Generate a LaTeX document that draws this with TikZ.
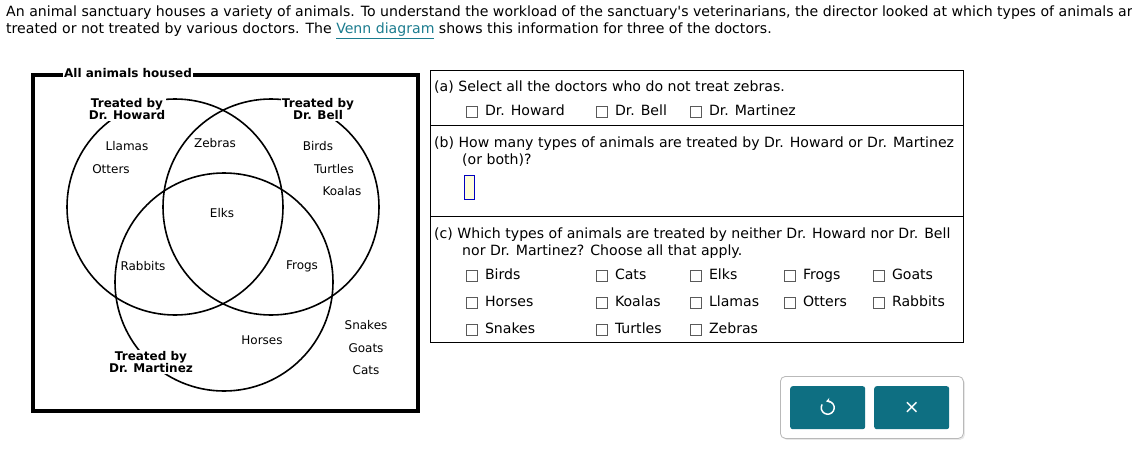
\documentclass[tikz,border=0pt]{standalone}
\usepackage{fontspec}
\setmainfont{DejaVu Sans}
\usetikzlibrary{shadows,arrows.meta,positioning}
\definecolor{tealbtn}{HTML}{0E6F82}
\definecolor{linkc}{HTML}{1B7C8F}
\definecolor{boxgray}{HTML}{5A5A5A}
\tikzset{
  maintext/.style={anchor=base west, inner sep=0, font=\fontsize{14.1}{17}\selectfont},
  qtext/.style={anchor=base west, inner sep=0, font=\fontsize{14.1}{17}\selectfont},
  venncirc/.style={circle, draw, line width=1.6, inner sep=0},
  animal/.style={inner sep=0, font=\fontsize{12}{14}\selectfont},
  setlabel/.style={fill=white, inner sep=1, align=center, font=\bfseries\fontsize{12}{12}\selectfont},
  cbox/.style={draw=boxgray, line width=0.6, minimum size=11, inner sep=0},
  cbtext/.style={anchor=west, inner sep=0, text height=10.5, text depth=3, font=\fontsize{14.1}{17}\selectfont},
  btn/.style={fill=tealbtn, rounded corners=2.5, minimum width=75, minimum height=43, anchor=north west, inner sep=0}
}
\begin{document}
\begin{tikzpicture}[x=1pt,y=-1pt]
\useasboundingbox (0,0) rectangle (1132,452);
\clip (0,0) rectangle (1132,452);
\fill[white] (0,0) rectangle (1132,452);

% intro text
\node[maintext] (line1) at (6,17) {An animal sanctuary houses a variety of animals. To understand the workload of the sanctuary\textquotesingle s veterinarians, the director looked at which types of animals are};
\node[maintext] (line2) at (6,34) {treated or not treated by various doctors. The \textcolor{linkc}{\underline{Venn diagram}} shows this information for three of the doctors.};

% Venn diagram
\node[venncirc, minimum size=216] (howard) at (175,207) {};
\node[venncirc, minimum size=216] (bell) at (271,207) {};
\node[venncirc, minimum size=218] (martinez) at (224,282) {};
\node[draw, line width=3.5, minimum width=385, minimum height=336, anchor=north west, inner sep=0] (universe) at (31,73) {};
\node[setlabel, anchor=west] (ulabel) at (63,73) {All animals housed};
\node[setlabel] (hlabel) at (127,109) {Treated by\\Dr. Howard};
\node[setlabel] (blabel) at (318,109) {Treated by\\Dr. Bell};
\node[setlabel] (mlabel) at (151,362) {Treated by\\Dr. Martinez};

\node[animal] (llamas) at (127,146) {Llamas};
\node[animal] (otters) at (111,169) {Otters};
\node[animal] (zebras) at (215,143) {Zebras};
\node[animal] (birds) at (318,146) {Birds};
\node[animal] (turtles) at (334,169) {Turtles};
\node[animal] (koalas) at (342,191) {Koalas};
\node[animal] (elks) at (222,213) {Elks};
\node[animal] (rabbits) at (143,266) {Rabbits};
\node[animal] (frogs) at (302,266) {Frogs};
\node[animal] (horses) at (262,340) {Horses};
\node[animal] (snakes) at (366,325) {Snakes};
\node[animal] (goats) at (366,348) {Goats};
\node[animal] (cats) at (366,370) {Cats};

% question panel
\node[draw, line width=0.8, minimum width=533, minimum height=272, anchor=north west, inner sep=0] (panel) at (430,70) {};
\coordinate (d1l) at (430,125); \coordinate (d1r) at (963,125);
\coordinate (d2l) at (430,216); \coordinate (d2r) at (963,216);
\draw[line width=0.8] (d1l) -- (d1r);
\draw[line width=0.8] (d2l) -- (d2r);

\node[qtext] (qa) at (434,92) {(a) Select all the doctors who do not treat zebras.};
\node[cbox] (a1) at (472,112) {}; \node[cbtext, right=7 of a1] (a1t) {Dr. Howard};
\node[cbox] (a2) at (602,112) {}; \node[cbtext, right=7 of a2] (a2t) {Dr. Bell};
\node[cbox] (a3) at (696,112) {}; \node[cbtext, right=7 of a3] (a3t) {Dr. Martinez};

\node[qtext] (qb1) at (434,147) {(b) How many types of animals are treated by Dr. Howard or Dr. Martinez};
\node[qtext] (qb2) at (462,164) {(or both)?};
\node[draw=blue!75!black, fill=yellow!15, line width=1, minimum width=10, minimum height=24, anchor=north west, inner sep=0] (ans) at (464,175) {};

\node[qtext] (qc1) at (434,238) {(c) Which types of animals are treated by neither Dr. Howard nor Dr. Bell};
\node[qtext] (qc2) at (462,255) {nor Dr. Martinez? Choose all that apply.};

\node[cbox] (c11) at (472,276) {}; \node[cbtext, right=7 of c11] (c11t) {Birds};
\node[cbox] (c12) at (602,276) {}; \node[cbtext, right=7 of c12] (c12t) {Cats};
\node[cbox] (c13) at (696,276) {}; \node[cbtext, right=7 of c13] (c13t) {Elks};
\node[cbox] (c14) at (790,276) {}; \node[cbtext, right=7 of c14] (c14t) {Frogs};
\node[cbox] (c15) at (879,276) {}; \node[cbtext, right=7 of c15] (c15t) {Goats};
\node[cbox] (c21) at (472,303) {}; \node[cbtext, right=7 of c21] (c21t) {Horses};
\node[cbox] (c22) at (602,303) {}; \node[cbtext, right=7 of c22] (c22t) {Koalas};
\node[cbox] (c23) at (696,303) {}; \node[cbtext, right=7 of c23] (c23t) {Llamas};
\node[cbox] (c24) at (790,303) {}; \node[cbtext, right=7 of c24] (c24t) {Otters};
\node[cbox] (c25) at (879,303) {}; \node[cbtext, right=7 of c25] (c25t) {Rabbits};
\node[cbox] (c31) at (472,330) {}; \node[cbtext, right=7 of c31] (c31t) {Snakes};
\node[cbox] (c32) at (602,330) {}; \node[cbtext, right=7 of c32] (c32t) {Turtles};
\node[cbox] (c33) at (696,330) {}; \node[cbtext, right=7 of c33] (c33t) {Zebras};

% buttons
\node[draw=gray!55, fill=white, line width=0.8, rounded corners=5, minimum width=183, minimum height=62, anchor=north west, inner sep=0,
  drop shadow={opacity=0.18, shadow xshift=1.5pt, shadow yshift=-1.5pt}] (bpanel) at (780,376) {};
\node[btn] (reset) at (790,386) {};
\node[btn] (close) at (874,386) {};
\begin{scope}[shift={(reset.center)}, y=1pt]
  \draw[white, line width=1.5, -{Stealth[length=4pt,width=5pt]}] (150:6.5) arc (150:465:6.5);
\end{scope}
\node[text=white, inner sep=0, font=\fontsize{19}{19}\selectfont] (xmark) at (close.center) {×};
\end{tikzpicture}
\end{document}
